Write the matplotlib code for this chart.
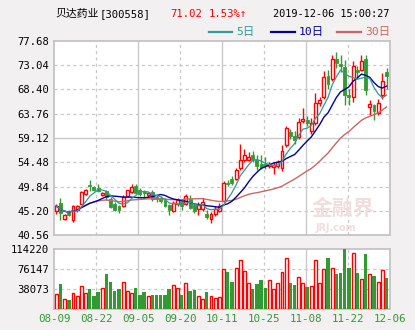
import matplotlib
matplotlib.use("Agg")
import matplotlib.pyplot as plt
import numpy as np
import pandas as pd
from matplotlib.patches import Rectangle

# ---------------- data ----------------
dates_labels = ["08-09", "08-22", "09-05", "09-20", "10-11", "10-25", "11-08", "11-22", "12-06"]
price_ticks = [40.56, 45.20, 49.84, 54.48, 59.12, 63.76, 68.40, 73.04, 77.68]
vol_ticks = [38073, 76147, 114220]

opens = [45.21, 46.74, 43.75, 45.02, 43.56, 45.34, 46.62, 48.40, 50.10, 49.80,
         49.67, 48.20, 49.04, 47.45, 46.62, 46.11, 46.11, 48.02, 48.85, 50.06,
         49.29, 49.04, 48.20, 48.85, 47.89, 47.76, 47.25, 46.30, 45.21, 46.49,
         46.94, 46.62, 47.51, 46.30, 45.66, 45.66, 44.70, 43.62, 44.58, 45.21,
         47.13, 50.57, 51.40, 51.40, 53.31, 55.02, 55.02, 55.85, 54.90, 54.26,
         54.10, 53.75, 53.63, 53.75, 53.31, 57.76, 60.31, 59.50, 59.36, 62.40,
         62.53, 60.50, 62.03, 65.73, 66.87, 70.95, 70.31, 74.14, 73.24, 72.73,
         67.32, 67.00, 72.10, 72.20, 74.14, 65.10, 65.40, 63.94, 67.32, 71.72]
highs = [46.60, 47.70, 44.70, 45.34, 46.30, 46.40, 49.04, 49.49, 51.07, 50.00,
         50.30, 48.90, 49.17, 47.80, 47.00, 46.40, 48.20, 49.30, 50.30, 50.40,
         49.67, 49.30, 48.90, 49.30, 48.20, 48.00, 47.60, 46.60, 47.10, 47.60,
         47.20, 48.50, 48.30, 46.50, 46.90, 47.60, 45.30, 45.00, 46.10, 46.70,
         50.90, 51.10, 51.80, 53.40, 57.90, 57.10, 56.50, 56.60, 55.90, 55.80,
         55.50, 54.50, 54.60, 55.00, 57.80, 61.40, 60.90, 60.40, 63.00, 64.80,
         63.30, 62.90, 67.80, 66.90, 71.90, 72.20, 75.00, 75.50, 74.90, 74.00,
         68.40, 73.80, 72.90, 75.00, 75.00, 66.30, 65.60, 66.60, 71.60, 72.50]
lows = [44.70, 43.43, 43.56, 44.26, 43.11, 45.00, 46.49, 48.21, 49.04, 49.00,
        48.80, 48.00, 47.38, 45.80, 45.20, 44.90, 45.90, 47.90, 48.70, 48.40,
        48.00, 47.60, 47.90, 47.10, 46.90, 46.80, 45.90, 44.40, 45.00, 46.20,
        45.40, 46.30, 45.50, 44.80, 44.40, 45.20, 43.75, 42.90, 44.30, 45.00,
        46.90, 49.90, 50.10, 51.10, 53.00, 54.60, 54.70, 54.60, 53.10, 53.30,
        53.20, 53.40, 52.35, 53.40, 52.90, 57.40, 58.90, 57.90, 58.90, 61.90,
        61.40, 59.80, 61.60, 65.20, 66.50, 68.40, 70.00, 72.40, 71.70, 65.40,
        65.40, 66.00, 70.30, 71.90, 67.40, 63.60, 62.60, 63.60, 66.50, 68.40]
closes = [46.17, 44.83, 44.45, 44.45, 46.11, 46.11, 48.78, 49.17, 49.95, 49.20,
          49.04, 48.65, 47.89, 45.98, 45.47, 45.34, 47.89, 49.17, 49.80, 48.66,
          48.40, 48.66, 48.70, 47.45, 47.57, 47.13, 46.17, 45.34, 46.81, 47.25,
          46.17, 48.08, 45.79, 45.15, 46.30, 46.94, 44.10, 44.70, 45.66, 46.17,
          50.63, 50.31, 50.60, 52.99, 55.00, 55.85, 55.53, 55.02, 53.75, 53.60,
          53.70, 54.14, 54.07, 54.58, 56.68, 60.95, 59.48, 58.72, 62.22, 62.70,
          61.90, 62.03, 65.73, 66.40, 70.70, 69.42, 74.14, 73.37, 72.90, 67.32,
          66.87, 72.86, 71.80, 73.88, 68.27, 65.60, 64.30, 65.73, 69.95, 71.02]
volumes = [28400, 47300, 18300, 17000, 29700, 24600, 42900, 29700, 37900, 24600,
           32200, 39100, 66300, 51100, 34100, 37900, 50500, 33400, 29700, 39800,
           26500, 32200, 24000, 26500, 26500, 26500, 26500, 37900, 44800, 39100,
           26500, 48600, 34100, 36000, 24000, 18300, 32200, 24000, 20200, 22100,
           75100, 70000, 51100, 77000, 92100, 71300, 48600, 37900, 47300, 54900,
           39800, 54300, 37200, 48600, 69400, 95900, 49200, 45400, 59900, 48600,
           41600, 42900, 92100, 48600, 75100, 96500, 77000, 66300, 68100, 114220,
           77600, 105400, 68100, 56200, 104100, 65600, 62500, 50500, 73200, 58700]

# ---------------- style ----------------
RED = "#ff0000"
GREEN = "#339933"
MA5_C = "#339999"
MA10_C = "#000099"
MA30_C = "#cc6666"
GRID_C = "#c8c8c8"
BG = "#f2f0f0"
plt.rcParams['font.family'] = ['DejaVu Sans Mono', 'Noto Sans CJK SC']

W, H = 415, 330
fig = plt.figure(figsize=(W / 100, H / 100), dpi=100, facecolor=BG)

def fx(px):
    return px / W

def fy(py):
    return 1 - py / H

L, R = 54.3, 390.0
ax = fig.add_axes([fx(L), fy(235.3), fx(R - L), fy(40.8) - fy(235.3)])
axv = fig.add_axes([fx(L), fy(309.0), fx(R - L), fy(248.7) - fy(309.0)])

n = len(closes)
x = np.arange(n)
xl = (-0.48, 79.83)
vgrid = np.linspace(xl[0], xl[1], 9)[1:-1]

TICK_FS = 7.6
for a in (ax, axv):
    a.set_facecolor("white")
    a.set_xlim(*xl)
    for s in a.spines.values():
        s.set_color("#c0c0c0")
        s.set_linewidth(1.2)
    a.tick_params(length=0, pad=3.5)
    for i, gx in enumerate(vgrid):
        if i % 2 == 1:
            a.axvline(gx, color=GRID_C, lw=1.0, zorder=0)
        else:
            a.axvline(gx, color=GRID_C, lw=0.9, ls=(0, (2.5, 2.5)), zorder=0)
    a.set_xticks([])

ax.set_ylim(price_ticks[0], price_ticks[-1])
ax.set_yticks(price_ticks)
ax.set_yticklabels([f"{v:.2f}" for v in price_ticks], fontsize=TICK_FS)
for i, v in enumerate(price_ticks[1:-1], start=1):
    if i == 4:
        ax.axhline(v, color=GRID_C, lw=1.0, zorder=0)
    else:
        ax.axhline(v, color=GRID_C, lw=0.9, ls=(0, (2.5, 2.5)), zorder=0)

# candles
bw = 0.7
for i in range(n):
    o, h, l, c = opens[i], highs[i], lows[i], closes[i]
    up = c >= o
    col = RED if up else GREEN
    top, bot = max(o, c), min(o, c)
    ax.plot([i, i], [top, h], color=col, lw=1.0, zorder=3, solid_capstyle='butt')
    ax.plot([i, i], [l, bot], color=col, lw=1.0, zorder=3, solid_capstyle='butt')
    hgt = max(top - bot, 0.08)
    if up:
        ax.add_patch(Rectangle((i - bw / 2, bot), bw, hgt, facecolor="white",
                               edgecolor=col, lw=1.0, zorder=4))
    else:
        ax.add_patch(Rectangle((i - bw / 2, bot), bw, hgt, facecolor=col,
                               edgecolor=col, lw=0.6, zorder=4))

cs = pd.Series(closes)
ma5 = cs.rolling(5, min_periods=1).mean()
ma10 = cs.rolling(10, min_periods=1).mean()
ma30 = cs.rolling(30, min_periods=1).mean()
ax.plot(x, ma30, color=MA30_C, lw=1.0, zorder=5)
ax.plot(x, ma10, color=MA10_C, lw=1.0, zorder=5)
ax.plot(x, ma5, color=MA5_C, lw=0.9, zorder=5)

# watermark
ax.text(0.86, 0.14, "金融界", transform=ax.transAxes, fontsize=15, color="#f0dede",
        ha="center", va="center", family=['Noto Sans CJK SC'], weight='bold', zorder=1)
ax.text(0.84, 0.04, "JRJ.com", transform=ax.transAxes, fontsize=7, color="#f0dede",
        ha="center", va="center", family=['DejaVu Sans'], weight='bold', zorder=1)

# volume
axv.set_ylim(0, vol_ticks[-1])
axv.set_yticks(vol_ticks)
axv.set_yticklabels([str(v) for v in vol_ticks], fontsize=TICK_FS)
for v in vol_ticks[:-1]:
    axv.axhline(v, color=GRID_C, lw=0.9, ls=(0, (2.5, 2.5)), zorder=0)
for i in range(n):
    up = closes[i] >= opens[i]
    if up:
        axv.bar(i, volumes[i], width=bw, facecolor="white", edgecolor=RED, lw=1.0, zorder=3)
    else:
        axv.bar(i, volumes[i], width=bw + 0.1, color=GREEN, lw=0, zorder=3)

for gx, lab in zip(np.linspace(xl[0], xl[1], 9), dates_labels):
    axv.text(gx, -0.08, lab, transform=axv.get_xaxis_transform(), ha="center", va="top",
             fontsize=7.8, color=GREEN)

# header
fig.text(fx(55), fy(14), "贝达药业", fontsize=7.8, color="black", va="center",
         ha="left", family=['Noto Sans CJK SC', 'DejaVu Sans'])
fig.text(fx(100), fy(14), "[300558]", fontsize=7.6, color="black", va="center",
         ha="left")
fig.text(fx(170), fy(14), "71.02", fontsize=7.6, color=RED, va="center", ha="left")
fig.text(fx(209), fy(14), "1.53%↑", fontsize=7.6, color=RED, va="center", ha="left",
         family=['DejaVu Sans Mono', 'DejaVu Sans'])
fig.text(fx(389), fy(14), "2019-12-06 15:00:27", fontsize=7.4, color="black", va="center",
         ha="right")

leg = [(209, 232, MA5_C, "5日"), (271, 295, MA10_C, "10日"), (337, 361, MA30_C, "30日")]
for x0, x1, c, t in leg:
    fig.add_artist(plt.Line2D([fx(x0), fx(x1)], [fy(31.5), fy(31.5)], color=c, lw=1.6,
                              transform=fig.transFigure))
    fig.text(fx(x1 + 4), fy(32), t, fontsize=8.2, color=c, va="center", ha="left",
             family=['DejaVu Sans Mono', 'Noto Sans CJK SC'])

fig.savefig("out.png", dpi=100, facecolor=BG)
